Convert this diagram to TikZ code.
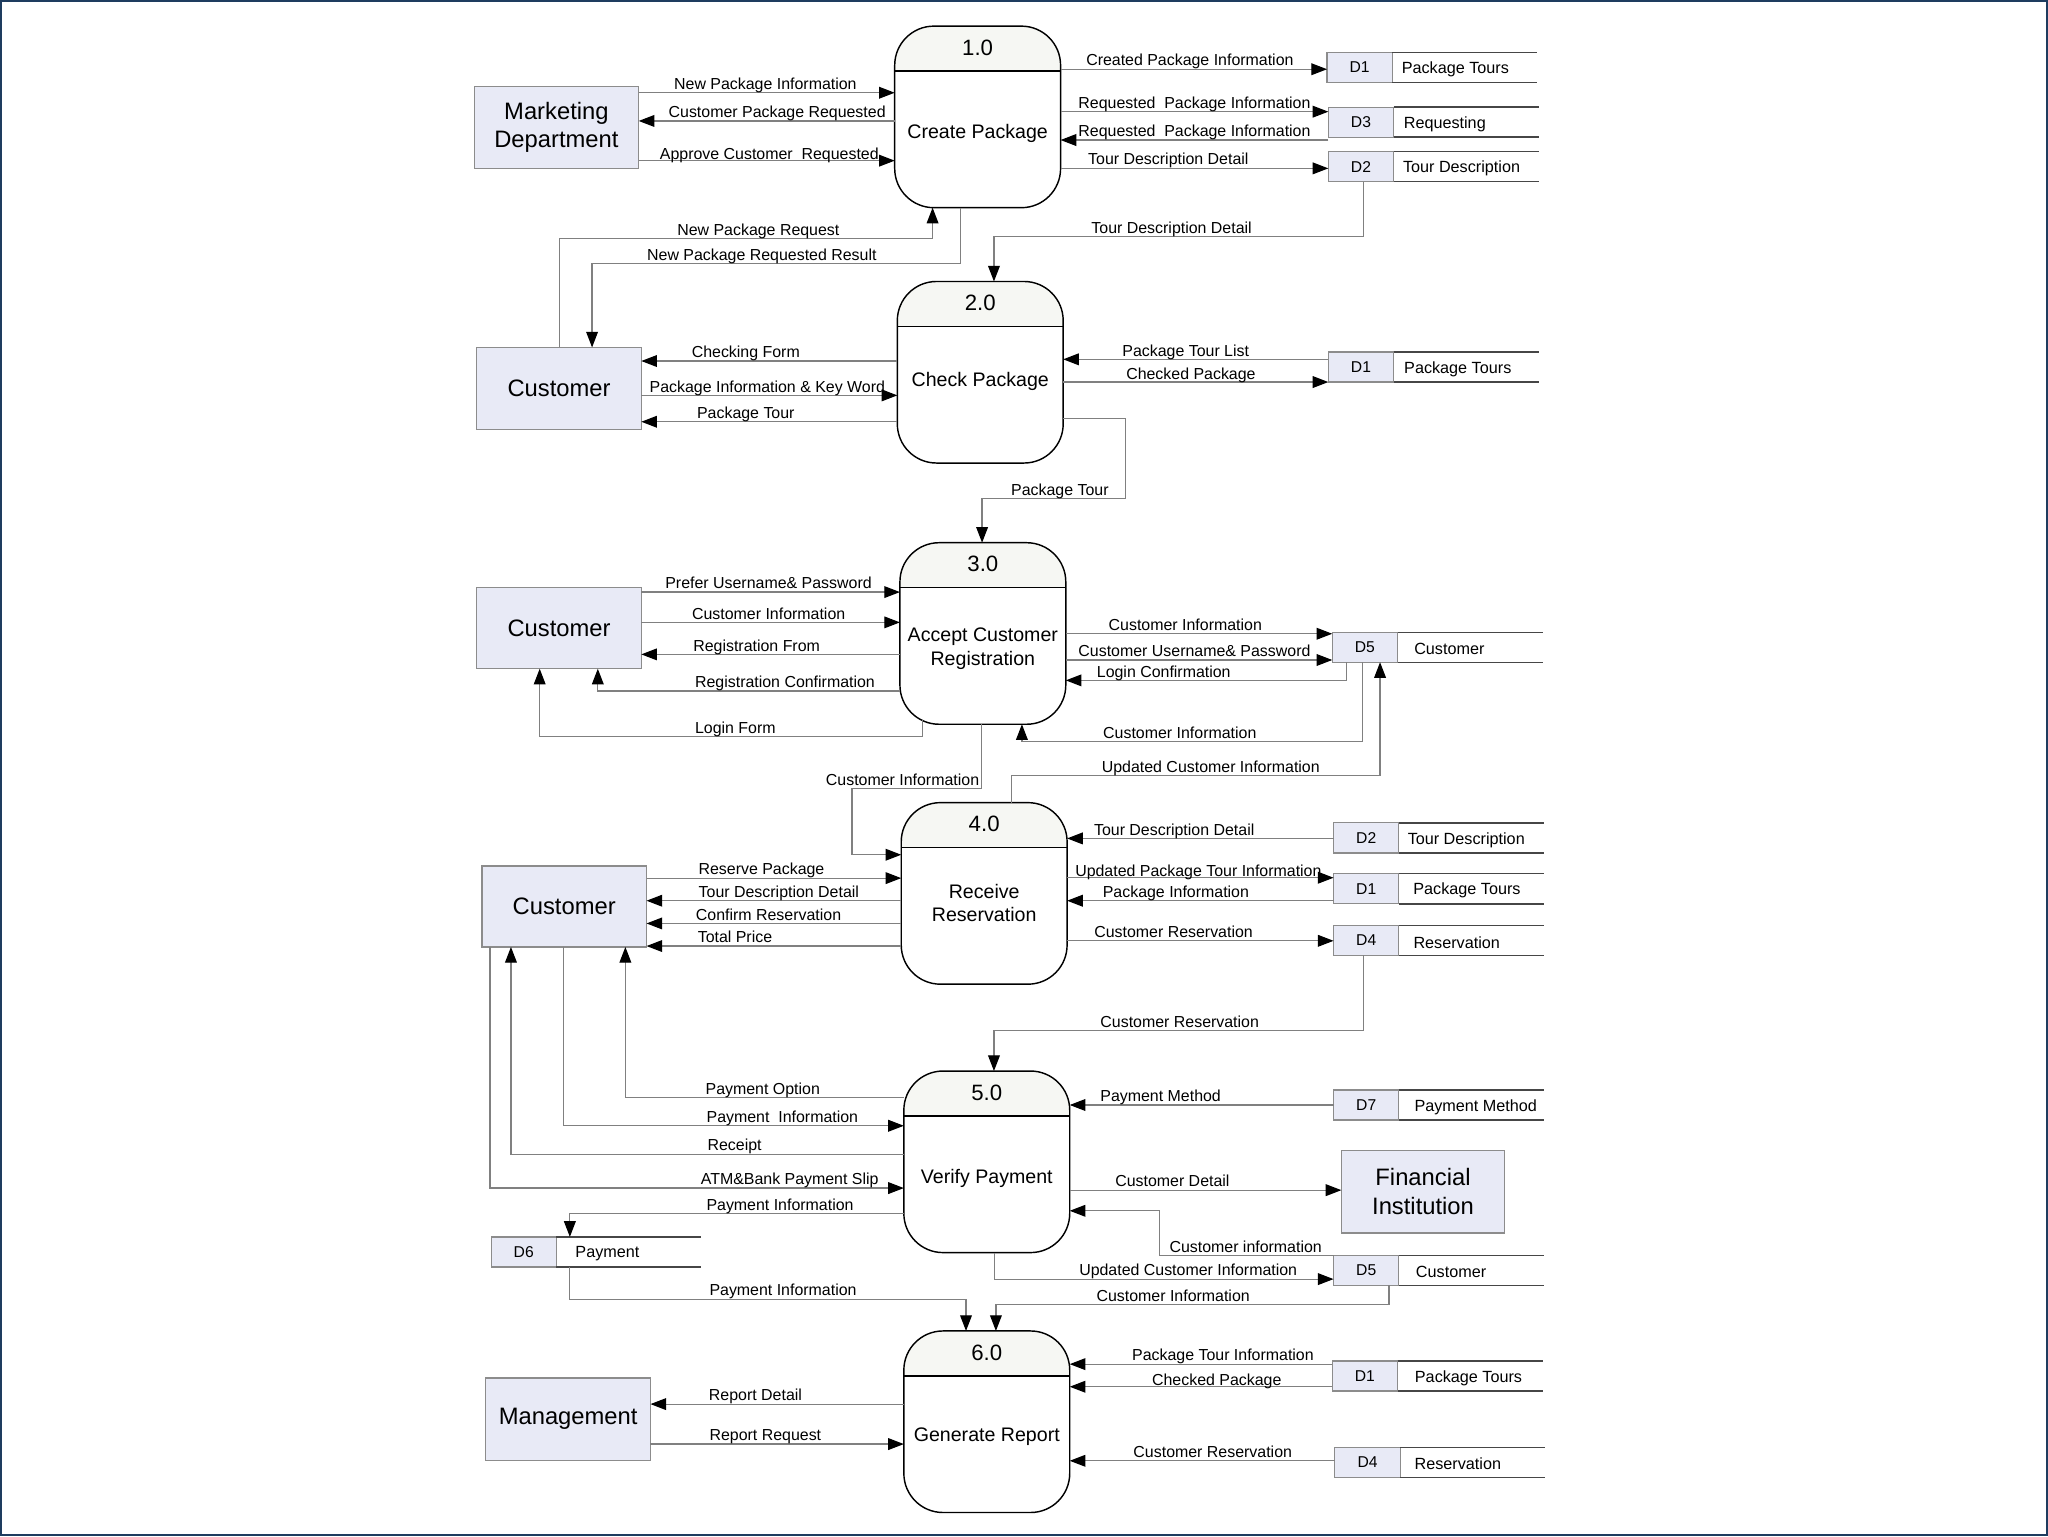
\documentclass[tikz,border=0pt]{standalone}
\usepackage{fontspec}
\setmainfont{Liberation Sans}
\usetikzlibrary{arrows.meta}
\definecolor{entfill}{RGB}{232,234,246}
\definecolor{entdraw}{RGB}{140,140,140}
\definecolor{hdrfill}{RGB}{246,247,243}
\definecolor{flowgray}{RGB}{128,128,128}
\definecolor{framecol}{RGB}{30,60,95}
\definecolor{storeline}{RGB}{70,70,70}

\newcommand{\mkproc}[6]{%
  \node[procshape] (#1) at (#2,#3) {};
  \begin{scope}
    \clip[rounded corners=30pt] (#1.south west) rectangle (#1.north east);
    \fill[hdrfill] (#1.north west) rectangle ([yshift=-34.5pt]#1.north east);
  \end{scope}
  \draw[procborder] (#1.south west) rectangle (#1.north east);
  \draw[procborder] ([yshift=-34.5pt]#1.north west) -- ([yshift=-34.5pt]#1.north east);
  \node[numtxt] (#1num) at ([yshift=-16.5pt]#1.north) {#4};
  \node[titletxt] (#1title) at (#2,#6) {#5};
}
\newcommand{\mkstore}[6]{%
  \node[storeid] (#1) at (#2+25,#3) {#4};
  \draw[storeln] (#1.north east) -- ++(111,0);
  \draw[storeln] (#1.south east) -- ++(111,0);
  \node[storetxt] (#1name) at ([xshift=#6pt,yshift=-1.5pt]#1.east) {#5};
}

\begin{document}
\begin{tikzpicture}[x=1pt, y=-1pt,
  ent/.style={draw=entdraw, fill=entfill, line width=0.9pt, minimum width=126pt, minimum height=63pt, inner sep=0pt, outer sep=0pt, align=center, font=\fontsize{18.2}{22}\selectfont},
  procshape/.style={rectangle, minimum width=127pt, minimum height=139pt, inner sep=0pt, outer sep=0pt},
  procborder/.style={draw=black, line width=1.1pt, rounded corners=30pt},
  numtxt/.style={font=\fontsize{17}{20}\selectfont, inner sep=0pt},
  titletxt/.style={font=\fontsize{15}{18}\selectfont, align=center, inner sep=0pt},
  storeid/.style={draw=entdraw, fill=entfill, line width=0.9pt, minimum width=50pt, minimum height=23pt, inner sep=0pt, outer sep=0pt, font=\fontsize{12}{14}\selectfont},
  storeln/.style={draw=storeline, line width=1pt},
  storetxt/.style={anchor=west, inner sep=0pt, font=\fontsize{12.4}{14}\selectfont},
  flow/.style={draw=flowgray, line width=0.9pt, -{Triangle[length=12pt,width=9pt,color=black]}},
  lbl/.style={anchor=base, inner sep=0pt, font=\fontsize{12.2}{14}\selectfont}
]
\fill[white] (0,0) rectangle (1568,1176);
\draw[framecol, line width=1.6pt] (0.8,0.8) rectangle (1567.2,1175.2);
\useasboundingbox (0,0) rectangle (1568,1176);

% entities
\node[ent] (MD) at (426,97.5) {Marketing\\Department};
\node[ent] (C2) at (428,297.5) {Customer};
\node[ent, minimum height=62pt] (C3) at (428,481) {Customer};
\node[ent, minimum height=62pt] (C4) at (432,694) {Customer};
\node[ent, minimum width=125pt] (FI) at (1089.5,912.5) {Financial\\Institution};
\node[ent] (MG) at (435,1086.5) {Management};

% processes
\mkproc{P1}{748.5}{89.5}{1.0}{Create Package}{102}
\mkproc{P2}{750.5}{285}{2.0}{Check Package}{292}
\mkproc{P3}{752.5}{485}{3.0}{Accept Customer\\Registration}{496.5}
\mkproc{P4}{753.5}{684}{4.0}{Receive\\Reservation}{691.5}
\mkproc{P5}{755.5}{889.5}{5.0}{Verify Payment}{902}
\mkproc{P6}{755.5}{1088.5}{6.0}{Generate Report}{1100}

% data stores
\mkstore{S1a}{1016}{51.5}{D1}{Package Tours}{7}
\mkstore{S3}{1017}{93.5}{D3}{Requesting}{7.6}
\mkstore{S2a}{1017}{127.5}{D2}{Tour Description}{7}
\mkstore{S1b}{1017}{281}{D1}{Package Tours}{7.9}
\mkstore{S5a}{1020}{495.5}{D5}{Customer}{12.6}
\mkstore{S2b}{1021}{641.5}{D2}{Tour Description}{6.6}
\mkstore{S1c}{1021}{680.5}{D1}{Package Tours}{10.9}
\mkstore{S4a}{1021}{720}{D4}{Reservation}{11}
\mkstore{S7}{1021}{846}{D7}{Payment Method}{11.8}
\mkstore{S5b}{1021}{972.5}{D5}{Customer}{12.9}
\mkstore{S6}{376}{958.5}{D6}{Payment}{14.4}
\mkstore{S1d}{1020}{1053.5}{D1}{Package Tours}{13.1}
\mkstore{S4b}{1022}{1119.5}{D4}{Reservation}{10.9}

% ---- block 1
\draw[flow] (MD.east |- 0,71) -- (P1.west |- 0,71);
\node[lbl] (L1) at (586,71-2.5) {New Package Information};
\draw[flow] (P1.west |- 0,92.6) -- (MD.east |- 0,92.6);
\node[lbl] (L2) at (595,92.6-2.5) {Customer Package Requested};
\draw[flow] (MD.east |- 0,123) -- (P1.west |- 0,123);
\node[lbl] (L3) at (589,123-1) {Approve Customer\ \ Requested};
\draw[flow] (P1.east |- 0,53) -- (S1a.west |- 0,53);
\node[lbl] (L4) at (911,53-2.5) {Created Package Information};
\draw[flow] (P1.east |- 0,85.5) -- (S3.west |- 0,85.5);
\node[lbl] (L5) at (914.5,85.5-2.5) {Requested\ \ Package Information};
\draw[flow] (S3.west |- 0,107.2) -- (P1.east |- 0,107.2);
\node[lbl] (L6) at (914.5,107.2-2.5) {Requested\ \ Package Information};
\draw[flow] (P1.east |- 0,128.9) -- (S2a.west |- 0,128.9);
\node[lbl] (L7) at (894.5,128.9-3) {Tour Description Detail};
\draw[flow] (1043.8,0 |- S2a.south) -- (1043.8,181) -- (761,181) -- (761,0 |- P2.north);
\node[lbl] (L8) at (897,181-2.5) {Tour Description Detail};
\draw[flow] (428.4,0 |- C2.north) -- (428.4,182.7) -- (714,182.7) -- (714,0 |- P1.south);
\node[lbl] (L9) at (580.6,182.7-2.5) {New Package Request};
\draw[flow] (735.5,0 |- P1.south) -- (735.5,201.6) -- (453.3,201.6) -- (453.3,0 |- C2.north);
\node[lbl] (L10) at (583.3,201.6-2.5) {New Package Requested Result};

% ---- block 2
\draw[flow] (P2.west |- 0,276.4) -- (C2.east |- 0,276.4);
\node[lbl] (L11) at (571,276.4-2.5) {Checking Form};
\draw[flow] (C2.east |- 0,302.7) -- (P2.west |- 0,302.7);
\node[lbl] (L12) at (587.5,302.7-2) {Package Information \& Key Word};
\draw[flow] (P2.west |- 0,322.9) -- (C2.east |- 0,322.9);
\node[lbl] (L13) at (571,322.9-2.5) {Package Tour};
\draw[flow] (S1b.west |- 0,275.1) -- (P2.east |- 0,275.1);
\node[lbl] (L14) at (907.8,275.1-2.5) {Package Tour List};
\draw[flow] (P2.east |- 0,292.5) -- (S1b.west |- 0,292.5);
\node[lbl] (L15) at (911.8,292.5-2) {Checked Package};
\draw[flow] (P2.east |- 0,320.6) -- (862,320.6) -- (862,381.6) -- (751.9,381.6) -- (751.9,0 |- P3.north);
\node[lbl] (L16) at (811.5,381.6-2.5) {Package Tour};

% ---- block 3
\draw[flow] (C3.east |- 0,453.3) -- (P3.west |- 0,453.3);
\node[lbl] (L17) at (588.4,453.3-2.5) {Prefer Username\& Password};
\draw[flow] (C3.east |- 0,476.5) -- (P3.west |- 0,476.5);
\node[lbl] (L18) at (588.5,476.5-2.5) {Customer Information};
\draw[flow] (P3.west |- 0,501) -- (C3.east |- 0,501);
\node[lbl] (L19) at (579.3,501-2.5) {Registration From};
\draw[flow] (P3.west |- 0,529) -- (457.7,529) -- (457.7,0 |- C3.south);
\node[lbl] (L20) at (601,529-2.5) {Registration Confirmation};
\draw[flow] (706,551) -- (706,564) -- (413.2,564) -- (413.2,0 |- C3.south);
\node[lbl] (L21) at (563,564-2.5) {Login Form};
\draw[flow] (P3.east |- 0,485.2) -- (S5a.west |- 0,485.2);
\node[lbl] (L22) at (907.5,485.2-2.5) {Customer Information};
\draw[flow] (P3.east |- 0,505.3) -- (S5a.west |- 0,505.3);
\node[lbl] (L23) at (914.5,505.3-2.5) {Customer Username\& Password};
\draw[flow] (1030.7,0 |- S5a.south) -- (1030.7,520.9) -- (P3.east |- 0,520.9);
\node[lbl] (L24) at (891,520.9-2.5) {Login Confirmation};
\draw[flow] (1043.3,0 |- S5a.south) -- (1043.3,567.6) -- (782.4,567.6) -- (782.4,0 |- P3.south);
\node[lbl] (L25) at (903.3,567.6-2.5) {Customer Information};
\draw[flow] (774.2,0 |- P4.north) -- (774.2,593.7) -- (1056.6,593.7) -- (1056.6,0 |- S5a.south);
\node[lbl] (L26) at (927,593.7-2.5) {Updated Customer Information};
\draw[flow] (751.3,0 |- P3.south) -- (751.3,603.6) -- (652.3,603.6) -- (652.3,654.4) -- (P4.west |- 0,654.4);
\node[lbl] (L27) at (691,603.6-2.5) {Customer Information};

% ---- block 4
\draw[flow] (C4.east |- 0,672.3) -- (P4.west |- 0,672.3);
\node[lbl] (L28) at (583,672.3-2.5) {Reserve Package};
\draw[flow] (P4.west |- 0,689.6) -- (C4.east |- 0,689.6);
\node[lbl] (L29) at (596.3,689.6-2.5) {Tour Description Detail};
\draw[flow] (P4.west |- 0,707) -- (C4.east |- 0,707);
\node[lbl] (L30) at (588.4,707-2.5) {Confirm Reservation};
\draw[flow] (P4.west |- 0,724.3) -- (C4.east |- 0,724.3);
\node[lbl] (L31) at (562.7,724.3-2.5) {Total Price};
\draw[flow] (S2b.west |- 0,641.9) -- (P4.east |- 0,641.9);
\node[lbl] (L32) at (899,641.9-2.5) {Tour Description Detail};
\draw[flow] (P4.east |- 0,672) -- (S1c.west |- 0,672);
\node[lbl] (L33) at (917.5,672-1) {Updated Package Tour Information};
\draw[flow] (S1c.west |- 0,689.6) -- (P4.east |- 0,689.6);
\node[lbl] (L34) at (900.3,689.6-2.5) {Package Information};
\draw[flow] (P4.east |- 0,720.3) -- (S4a.west |- 0,720.3);
\node[lbl] (L35) at (898.5,720.3-2.5) {Customer Reservation};
\draw[flow] (1043.8,0 |- S4a.south) -- (1043.8,789.2) -- (761,789.2) -- (761,0 |- P5.north);
\node[lbl] (L36) at (903.2,789.2-2.5) {Customer Reservation};

% ---- block 5
\draw[flow] (P5.west |- 0,840.2) -- (478.8,840.2) -- (478.8,0 |- C4.south);
\node[lbl] (L37) at (584,840.2-2.5) {Payment Option};
\draw[flow] (431.3,0 |- C4.south) -- (431.3,861.9) -- (P5.west |- 0,861.9);
\node[lbl] (L38) at (599,861.9-2.5) {Payment\ \ Information};
\draw[flow] (P5.west |- 0,883.6) -- (391.2,883.6) -- (391.2,0 |- C4.south);
\node[lbl] (L39) at (562.4,883.6-2.5) {Receipt};
\draw[flow] (375.1,0 |- C4.south) -- (375.1,909.6) -- (P5.west |- 0,909.6);
\node[lbl] (L40) at (604.6,909.6-2.5) {ATM\&Bank Payment Slip};
\draw[flow] (P5.west |- 0,929) -- (436.3,929) -- (436.3,0 |- S6.north);
\node[lbl] (L41) at (597.2,929-2.5) {Payment Information};
\draw[flow] (436.3,0 |- S6.south) -- (436.3,994.6) -- (739.6,994.6) -- (739.6,0 |- P6.north);
\node[lbl] (L42) at (599.5,994.6-2.5) {Payment Information};
\draw[flow] (S7.west |- 0,846) -- (P5.east |- 0,846);
\node[lbl] (L43) at (888.6,846-2.5) {Payment Method};
\draw[flow] (P5.east |- 0,911.2) -- (FI.west |- 0,911.2);
\node[lbl] (L44) at (897.6,911.2-2.5) {Customer Detail};
\draw[flow] (S5b.north west) -- (888,0 |- S5b.north west) -- (888,927) -- (P5.east |- 0,927);
\node[lbl] (L45) at (953.7,961.7-2.5) {Customer information};
\draw[flow] (761.6,0 |- P5.south) -- (761.6,979.3) -- (S5b.west |- 0,979.3);
\node[lbl] (L46) at (909.7,979.3-2.5) {Updated Customer Information};
\draw[flow] (1063.5,0 |- S5b.south) -- (1063.5,998.7) -- (762.5,998.7) -- (762.5,0 |- P6.north);
\node[lbl] (L47) at (898.2,998.7-2.5) {Customer Information};

% ---- block 6
\draw[flow] (P6.west |- 0,1075) -- (MG.east |- 0,1075);
\node[lbl] (L48) at (578.4,1075-2.5) {Report Detail};
\draw[flow] (MG.east |- 0,1105.6) -- (P6.west |- 0,1105.6);
\node[lbl] (L49) at (586,1105.6-2.5) {Report Request};
\draw[flow] (S1d.west |- 0,1044.4) -- (P6.east |- 0,1044.4);
\node[lbl] (L50) at (936.3,1044.4-2.5) {Package Tour Information};
\draw[flow] (S1d.west |- 0,1061.7) -- (P6.east |- 0,1061.7);
\node[lbl] (L51) at (931.6,1061.7-1) {Checked Package};
\draw[flow] (S4b.west |- 0,1118.4) -- (P6.east |- 0,1118.4);
\node[lbl] (L52) at (928.5,1118.4-2.5) {Customer Reservation};
\end{tikzpicture}
\end{document}
